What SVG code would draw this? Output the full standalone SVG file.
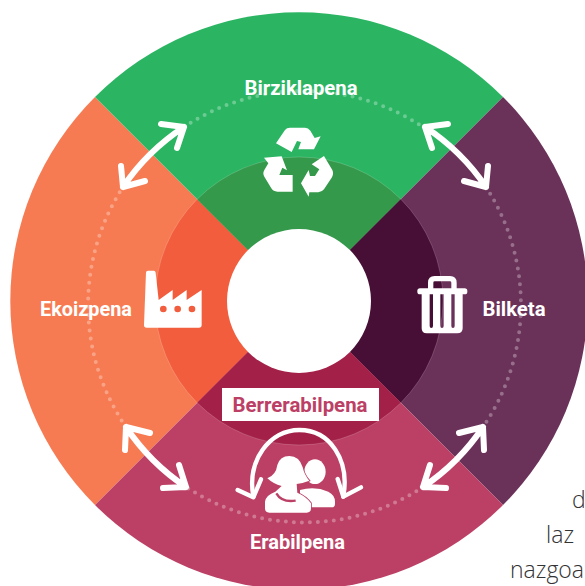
<svg xmlns="http://www.w3.org/2000/svg" width="585" height="586" viewBox="0 0 585 586">
<style>
.lbl{font-family:Roboto,"Liberation Sans",sans-serif;font-weight:700;font-size:21px;fill:#fff}
.body{font-family:"Open Sans","Liberation Sans",sans-serif;font-weight:300;font-size:23px;fill:#333}
.dots{fill:none;stroke:#fff;stroke-opacity:.3;stroke-width:4;stroke-linecap:round;stroke-dasharray:0 8}
.arrow{fill:none;stroke:#fff;stroke-width:6;stroke-linecap:round;stroke-linejoin:round}
.ico{fill:#fff}
.rim{fill:none;stroke:#fff;stroke-opacity:.25;stroke-width:.7}
</style>
<rect width="585" height="586" fill="#fff"/>
<g id="ekoizpena">
<path d="M299 301L95 97A288 288 0 0 0 95 505Z" fill="#F77B52"/>
<path d="M299 301L197.200 199.200A144 144 0 0 0 197.200 402.800Z" fill="#F25D3D"/>
<path transform="translate(20 250) scale(.3333)" class="ico" fill-rule="evenodd" d="M378 68Q378 62 384 62L402 62Q406 62 407 68L416 150L458 120L458 150L500 120L500 150L545 120L545 225Q545 233 537 233L380 233Q372 233 372 225ZM430 167a10 10 0 0 0 0 20a10 10 0 0 0 0 -20ZM473 167a10 10 0 0 0 0 20a10 10 0 0 0 0 -20ZM516 167a10 10 0 0 0 0 20a10 10 0 0 0 0 -20Z"/>
<text class="lbl" x="40" y="316" textLength="92" lengthAdjust="spacingAndGlyphs">Ekoizpena</text>
</g>
<g id="birziklapena">
<path d="M299 301L95 97A288 288 0 0 1 503 97Z" fill="#2BB563"/>
<path d="M299 301L197.200 199.200A144 144 0 0 1 400.800 199.200Z" fill="#34994A"/>
<g transform="translate(200 60) scale(.3333)" class="ico">
<path d="M228 250L255 210Q260 203 270 203L315 203Q325 203 331 212L344 234L362 229L342 268L295 268L303 246L291 243L275 276Z"/>
<path d="M192 293L245 289L261 331L247 323L238 345L278 345L278 395L232 395Q220 395 214 385L193 350Q187 340 193 330L205 310Z"/>
<path d="M372 288L397 330Q402 340 396 352L372 388Q365 397 355 397L328 397L326 410L303 370L326 330L330 348L345 348L358 328L335 313Z"/>
</g>
<text class="lbl" x="244.500" y="95" textLength="113" lengthAdjust="spacingAndGlyphs">Birziklapena</text>
</g>
<g id="bilketa">
<path d="M299 301L503 97A288 288 0 0 1 503 505Z" fill="#6A3159"/>
<path d="M299 301L400.800 199.200A144 144 0 0 1 400.800 402.800Z" fill="#470F35"/>
<g transform="translate(400 260) scale(.3333)">
<path class="ico" fill-rule="evenodd" d="M65 95L188 95L188 205Q188 220 172 220L80 220Q65 220 65 205ZM89 102L89 198Q89 204 94 204Q99 204 99 198L99 102ZM121 102L121 198Q121 204 126 204Q131 204 131 198L131 102ZM154 102L154 198Q154 204 159 204Q164 204 164 198L164 102Z"/>
<rect class="ico" x="52" y="85" width="150" height="18" rx="8"/>
<path d="M92 88L92 68Q92 56 104 56L150 56Q162 56 162 68L162 88" fill="none" stroke="#fff" stroke-width="16"/>
</g>
<text class="lbl" x="482.500" y="316" textLength="63" lengthAdjust="spacingAndGlyphs">Bilketa</text>
</g>
<g id="erabilpena">
<path d="M299 301L95 505A288 288 0 0 0 503 505Z" fill="#BC4065"/>
<path d="M299 301L197.200 402.800A144 144 0 0 0 400.800 402.800Z" fill="#A32148"/>
<g transform="translate(200 380) scale(.3333)">
<path d="M160 350C140 240 210 150 298 150C390 150 450 240 430 350" fill="none" stroke="#fff" stroke-width="13" stroke-linecap="round"/>
<path d="M113 330L160 352L183 298M483 322L430 350L413 297" fill="none" stroke="#fff" stroke-width="13" stroke-linecap="round" stroke-linejoin="round"/>
<ellipse class="ico" cx="345" cy="275" rx="32" ry="37"/>
<path class="ico" d="M300 330Q345 318 385 335Q405 345 405 365L405 372Q405 382 395 382L300 382Z"/>
<path class="ico" stroke="#BC4065" stroke-width="5" paint-order="stroke" d="M202 295Q228 285 232 255Q240 228 268 228Q298 228 308 262Q313 285 328 302Q308 310 290 312L292 338Q320 350 333 370L333 385Q333 398 320 398L208 398Q195 398 195 385L195 365Q198 345 226 335L245 318Q220 312 202 295Z"/>
<path d="M229 340Q245 368 287 362" fill="none" stroke="#BC4065" stroke-width="7"/>
</g>
<text class="lbl" x="250" y="549" textLength="95" lengthAdjust="spacingAndGlyphs">Erabilpena</text>
</g>
<circle class="rim" cx="299" cy="301" r="144"/>
<g id="centro"><circle cx="299" cy="301" r="72" fill="#fff"/></g>
<g id="berrerabilpena">
<rect x="222" y="388" width="157" height="33" fill="#fff"/>
<text class="lbl" x="232.500" y="412" textLength="135" lengthAdjust="spacingAndGlyphs" style="fill:#BC4065">Berrerabilpena</text>
</g>
<g id="connectors">
<path class="dots" d="M184 127A216 216 0 0 1 423 127"/>
<path class="dots" d="M486 187A216 216 0 0 1 483 427"/>
<path class="dots" d="M423 487A216 216 0 0 1 186 487"/>
<path class="dots" d="M126 427A216 216 0 0 1 123 187"/>
<g id="arrows" class="arrow">
<path d="M123 187A217 217 0 0 1 184 127M121 166L123 187L145 181M161 124L184 127L177 148"/>
<path d="M425 127A217 217 0 0 1 486 187M448 124L425 127L432 148M488 166L486 187L464 181"/>
<path d="M483 427A217 217 0 0 1 423 487M459 433L483 427L484 450M430 465L423 487L446 488"/>
<path d="M186 487A217 217 0 0 1 126 427M163 488L186 487L179 465M125 450L126 427L150 433"/>
</g>
</g>
<g id="fragmento">
<text class="body" x="572" y="508">d</text>
<text class="body" x="546" y="543">laz</text>
<text class="body" x="510" y="578">nazgoa</text>
</g>
</svg>
